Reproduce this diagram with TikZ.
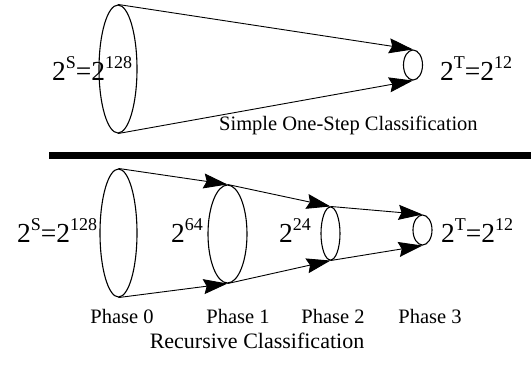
\documentclass[tikz,border=0pt]{standalone}
\usepackage{fontspec}
\setmainfont{Liberation Serif}
\usetikzlibrary{arrows.meta,shapes.geometric}

\def \labelSize {\fontsize{20.5}{24}\selectfont}
\def \powSize {\fontsize{27.5}{30}\selectfont}
\newcommand{\pw}[1]{\raisebox{12pt}{\fontsize{18}{18}\selectfont #1}}

\tikzset{
  cone/.style={draw, ellipse, line width=1.1pt, inner sep=0pt},
  flow/.style={line width=0.9pt, -{Stealth[length=24pt,width=15pt,inset=3pt]}},
  pow/.style={anchor=base west, inner sep=0pt, font=\powSize},
  caption/.style={anchor=base, inner sep=0pt, font=\labelSize},
}

\begin{document}
\begin{tikzpicture}[x=1pt,y=-1pt]
  \useasboundingbox (0,0) rectangle (531,368);
  % one step
  \node[cone, minimum width=38pt, minimum height=128pt] (s) at (118,69) {};
  \node[cone, minimum width=19pt, minimum height=30pt] (t) at (413,65) {};
  \draw[flow] (s.north) -- (t.north);
  \draw[flow] (s.south) -- (t.south);
  \node[pow] (sLabel) at (52,80) {2\pw{S}=2\pw{128}};
  \node[pow] (tLabel) at (440,80) {2\pw{T}=2\pw{12}};
  \node[caption, anchor=base west] (simple) at (219,130) {Simple One-Step Classification};

  \draw[line width=7pt] (49,155.5) -- (531,155.5);

  % recursive
  \node[cone, minimum width=37pt, minimum height=128pt] (p0) at (118.5,233) {};
  \node[cone, minimum width=39pt, minimum height=98pt] (p1) at (227.5,234) {};
  \node[cone, minimum width=19pt, minimum height=53pt] (p2) at (330.5,233.5) {};
  \node[cone, minimum width=19pt, minimum height=30pt] (p3) at (422.5,230) {};
  \foreach \a/\b in {p0/p1, p1/p2, p2/p3} {
    \draw[flow] (\a.north) -- (\b.north);
    \draw[flow] (\a.south) -- (\b.south);
  }
  \node[pow] (p0Label) at (17,242) {2\pw{S}=2\pw{128}};
  \node[pow] (p1Label) at (171,242) {2\pw{64}};
  \node[pow] (p2Label) at (279,242) {2\pw{24}};
  \node[pow] (p3Label) at (441,242) {2\pw{T}=2\pw{12}};

  \node[caption] (phase0) at (122,323) {Phase 0};
  \node[caption] (phase1) at (238,323) {Phase 1};
  \node[caption] (phase2) at (333,323) {Phase 2};
  \node[caption] (phase3) at (430,323) {Phase 3};
  \node[caption, font=\fontsize{22}{24}\selectfont] (recursive) at (257,348) {Recursive Classification};
\end{tikzpicture}
\end{document}
